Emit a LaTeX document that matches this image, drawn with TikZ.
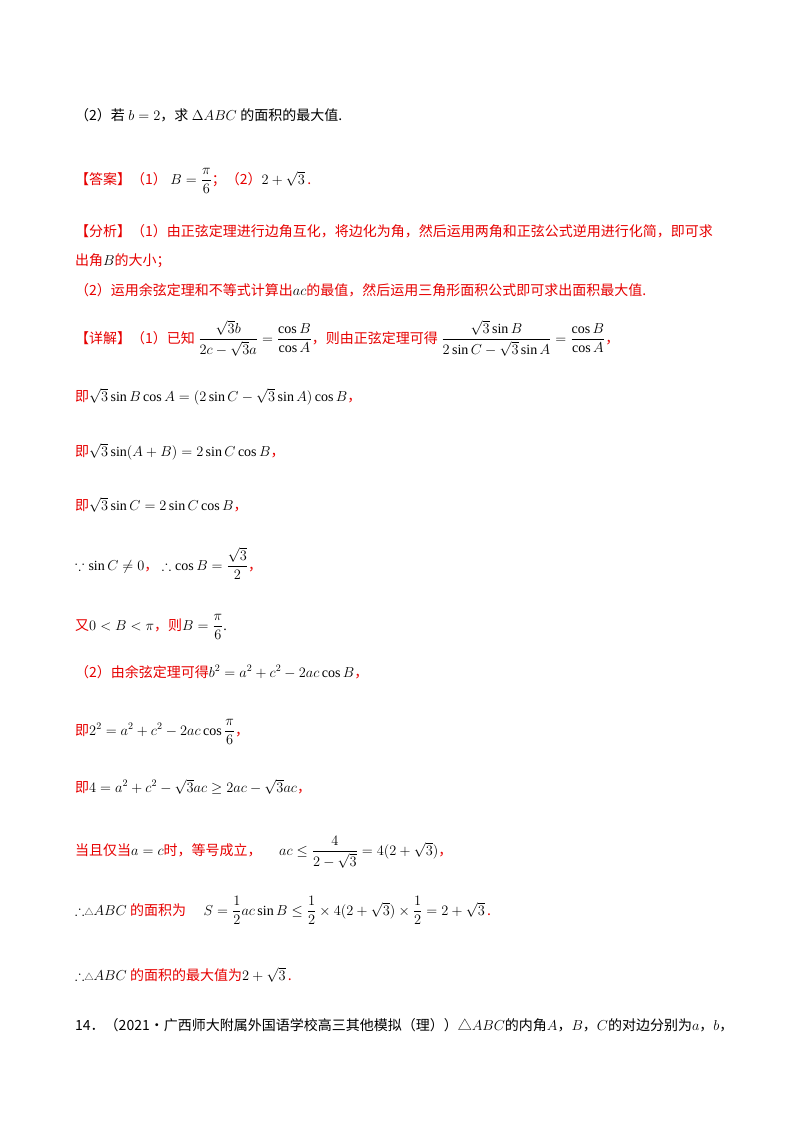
\documentclass[tikz,border=0pt]{standalone}
\usepackage{fontspec}
\usepackage{amsmath,amssymb}
\setmainfont{Liberation Serif}
\newfontfamily\cjk{Noto Sans CJK SC}
\definecolor{rd}{RGB}{230,0,0}
\newcommand{\zh}[1]{{\cjk\color{rd}#1}}
\newcommand{\zk}[1]{{\cjk #1}}
\begin{document}
\begin{tikzpicture}[x=1pt,y=-1pt,
  ln/.style={anchor=base west,inner sep=0pt,font=\fontsize{14}{16}\selectfont}]
\useasboundingbox (0,0) rectangle (800,1132);
\node[ln] (l1) at (75,120) {\zk{（2）若} $b=2$\zk{，求} $\Delta ABC$ \zk{的面积的最大值.}};
\node[ln] (l2) at (75,184) {\zh{【答案】（1）}\ $B=\dfrac{\pi}{6}$\zh{；（2）}$2+\sqrt{3}$\,\zh{.}};
\node[ln] (l3) at (75,236) {\zh{【分析】（1）由正弦定理进行边角互化，将边化为角，然后运用两角和正弦公式逆用进行化简，即可求}};
\node[ln] (l4) at (75,265) {\zh{出角}$B$\zh{的大小；}};
\node[ln] (l5) at (75,295) {\zh{（2）运用余弦定理和不等式计算出}$ac$\zh{的最值，然后运用三角形面积公式即可求出面积最大值.}};
\node[ln] (l6) at (75,343) {\zh{【详解】（1）已知}\ $\dfrac{\sqrt{3}b}{2c-\sqrt{3}a}=\dfrac{\cos B}{\cos A}$\zh{，则由正弦定理可得}\ $\dfrac{\sqrt{3}\sin B}{2\sin C-\sqrt{3}\sin A}=\dfrac{\cos B}{\cos A}$\zh{，}};
\node[ln] (l7) at (75,401) {\zh{即}$\sqrt{3}\sin B\cos A=(2\sin C-\sqrt{3}\sin A)\cos B$\zh{，}};
\node[ln] (l8) at (75,456) {\zh{即}$\sqrt{3}\sin(A+B)=2\sin C\cos B$\zh{，}};
\node[ln] (l9) at (75,510) {\zh{即}$\sqrt{3}\sin C=2\sin C\cos B$\zh{，}};
\node[ln] (l10) at (75,570) {$\because\sin C\neq0$\zh{，}\ $\therefore\cos B=\dfrac{\sqrt{3}}{2}$\zh{，}};
\node[ln] (l11) at (75,630) {\zh{又}$0<B<\pi$\zh{，则}$B=\dfrac{\pi}{6}$.};
\node[ln] (l12) at (75,677) {\zh{（2）由余弦定理可得}$b^2=a^2+c^2-2ac\cos B$\zh{，}};
\node[ln] (l13) at (75,735) {\zh{即}$2^2=a^2+c^2-2ac\cos\dfrac{\pi}{6}$\zh{，}};
\node[ln] (l14) at (75,792) {\zh{即}$4=a^2+c^2-\sqrt{3}ac\geq2ac-\sqrt{3}ac$\zh{，}};
\node[ln] (l15) at (75,855) {\zh{当且仅当}$a=c$\zh{时，等号成立，}\quad\ $ac\leq\dfrac{4}{2-\sqrt{3}}=4(2+\sqrt{3})$\zh{，}};
\node[ln] (l16) at (75,915) {$\therefore$\zk{\small△}$ABC$ \zh{的面积为}\quad\ $S=\dfrac12ac\sin B\leq\dfrac12\times4(2+\sqrt{3})\times\dfrac12=2+\sqrt{3}$\,\zh{.}};
\node[ln] (l17) at (75,980) {$\therefore$\zk{\small△}$ABC$ \zh{的面积的最大值为}$2+\sqrt{3}$\,\zh{.}};
\node[ln] (l18) at (75,1030) {\zk{14．（2021·广西师大附属外国语学校高三其他模拟（理））△}$ABC$\zk{的内角}$A$\zk{，}$B$\zk{，}$C$\zk{的对边分别为}$a$\zk{，}$b$\zk{，}};
\end{tikzpicture}
\end{document}
